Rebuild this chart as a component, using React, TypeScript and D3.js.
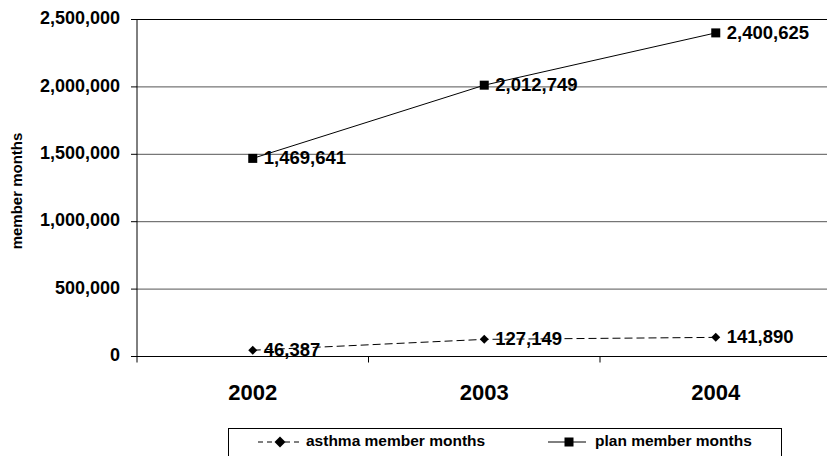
import React from "react";
import * as d3 from "d3";

const years = ["2002", "2003", "2004"];
const asthmaMonths = [46387, 127149, 141890];
const planMonths = [1469641, 2012749, 2400625];
const yTicks = [0, 500000, 1000000, 1500000, 2000000, 2500000];
const seriesNames = ["asthma member months", "plan member months"];

const W = 827;
const H = 456;
const FONT = "'Liberation Sans', Arial, Helvetica, sans-serif";

export default function App() {
  const left = 137;
  const top = 19.5;
  const bottom = 356.5;
  const right = left + 231.5 * 3;

  const x = d3.scaleBand<string>().domain(years).range([left, right]).padding(0);
  const y = d3.scaleLinear().domain([0, 2500000]).range([bottom, top]);
  const fmt = d3.format(",");
  const cx = (i: number) => (x(years[i]) as number) + x.bandwidth() / 2;

  const line = d3
    .line<number>()
    .x((_, i) => cx(i))
    .y((d) => y(d));

  const boundaries = [left, ...years.map((yr) => (x(yr) as number) + x.bandwidth())];

  const diamond = (px: number, py: number, r: number) =>
    `M${px},${py - r}L${px + r},${py}L${px},${py + r}L${px - r},${py}Z`;

  return (
    <svg
      width={W}
      height={H}
      style={{ position: "absolute", left: 0, top: 0, background: "#fff" }}
      fontFamily={FONT}
    >
      <rect x={0} y={0} width={W} height={H} fill="#fff" />
      {/* horizontal gridlines */}
      {yTicks.slice(1).map((t) => (
        <line
          key={t}
          x1={left}
          x2={right}
          y1={y(t)}
          y2={y(t)}
          stroke={t === 2500000 ? "#000" : "#555"}
          strokeWidth={1}
        />
      ))}
      {/* y axis */}
      <line x1={left} x2={left} y1={top} y2={bottom} stroke="#000" />
      {yTicks.map((t) => (
        <g key={t}>
          <line x1={left - 6} x2={left} y1={y(t)} y2={y(t)} stroke="#000" />
          <text
            x={120}
            y={y(t)}
            textAnchor="end"
            dominantBaseline="middle"
            fontSize={18}
            fontWeight="bold"
          >
            {fmt(t)}
          </text>
        </g>
      ))}
      {/* x axis */}
      <line x1={left} x2={right} y1={bottom} y2={bottom} stroke="#000" strokeWidth={1.2} />
      {boundaries.map((b, i) => (
        <line key={i} x1={b} x2={b} y1={bottom} y2={bottom + 6} stroke="#000" />
      ))}
      {years.map((yr, i) => (
        <text
          key={yr}
          x={cx(i)}
          y={394}
          textAnchor="middle"
          dominantBaseline="middle"
          fontSize={22}
          fontWeight="bold"
        >
          {yr}
        </text>
      ))}
      <text
        transform={`translate(18,191) rotate(-90)`}
        textAnchor="middle"
        dominantBaseline="middle"
        fontSize={15}
        fontWeight="bold"
      >
        member months
      </text>

      {/* series lines */}
      <path d={line(planMonths) || ""} fill="none" stroke="#000" strokeWidth={1} />
      <path
        d={line(asthmaMonths) || ""}
        fill="none"
        stroke="#000"
        strokeWidth={1}
        strokeDasharray="8,4"
      />

      {/* markers and value labels */}
      {planMonths.map((v, i) => (
        <g key={"p" + i}>
          <rect x={cx(i) - 4.5} y={y(v) - 4.5} width={9} height={9} fill="#000" />
          <text
            x={cx(i) + 11}
            y={y(v) + 1}
            dominantBaseline="middle"
            fontSize={18.5}
            fontWeight="bold"
          >
            {fmt(v)}
          </text>
        </g>
      ))}
      {asthmaMonths.map((v, i) => (
        <g key={"a" + i}>
          <path d={diamond(cx(i), y(v), 4.5)} fill="#000" />
          <text
            x={cx(i) + 11}
            y={y(v) + 1}
            dominantBaseline="middle"
            fontSize={18.5}
            fontWeight="bold"
          >
            {fmt(v)}
          </text>
        </g>
      ))}

      {/* legend */}
      <rect x={228.5} y={428.5} width={553} height={40} fill="#fff" stroke="#000" strokeWidth={1} />
      <line x1={258} x2={300} y1={442} y2={442} stroke="#000" strokeDasharray="5,4" />
      <path d={diamond(280, 442, 5.5)} fill="#000" />
      <text x={306} y={442} dominantBaseline="middle" fontSize={15.5} fontWeight="bold">
        {seriesNames[0]}
      </text>
      <line x1={548} x2={586} y1={442} y2={442} stroke="#000" />
      <rect x={564.5} y={437.5} width={9} height={9} fill="#000" />
      <text x={595} y={442} dominantBaseline="middle" fontSize={15.5} fontWeight="bold">
        {seriesNames[1]}
      </text>
    </svg>
  );
}
